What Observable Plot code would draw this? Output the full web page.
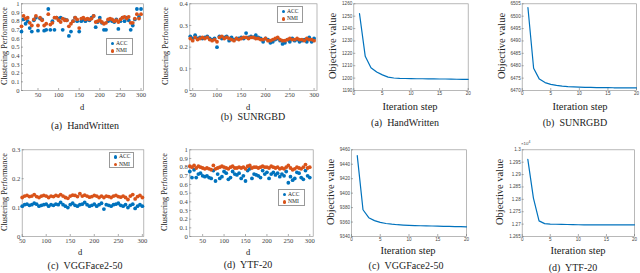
<!DOCTYPE html>
<html><head><meta charset="utf-8">
<script src="https://cdn.jsdelivr.net/npm/d3@7"></script>
<script src="https://cdn.jsdelivr.net/npm/@observablehq/plot@0.6"></script>
<style>
body{margin:0;background:#fff;}
#fig{position:relative;width:640px;height:273px;overflow:hidden;font-family:"Liberation Serif","Times New Roman",Times,"DejaVu Serif",serif;color:#222;}
.abs{position:absolute;white-space:pre;line-height:1;}
.c{transform:translate(-50%,-50%);}
.r{transform:translate(-50%,-50%) rotate(-90deg);}
.leg{position:absolute;border:0.7px solid #999;background:#fff;box-sizing:border-box;}
.leg .row{position:absolute;left:0;font-size:5.6px;line-height:1;white-space:pre;}
.leg .dot{position:absolute;width:3.6px;height:3.6px;border-radius:50%;}
</style></head>
<body><div id="fig"></div>
<script>
// ---------- data ----------
const dA = [10,15,20,25,30,35,40,45,50,55,60,65,70,75,80,85,90,95,100,105,110,115,120,125,130,135,140,145,150,155,160,165,170,175,180,185,190,195,200,205,210,215,220,225,230,235,240,245,250,255,260,265,270,275,280,285,290,295,300];
const accA = [0.68,0.82,0.77,0.80,0.72,0.68,0.81,0.84,0.69,0.83,0.82,0.69,0.70,0.94,0.70,0.80,0.70,0.84,0.83,0.84,0.70,0.82,0.81,0.63,0.68,0.80,0.84,0.80,0.68,0.80,0.82,0.80,0.82,0.81,0.84,0.86,0.73,0.79,0.84,0.78,0.70,0.70,0.80,0.82,0.80,0.79,0.82,0.71,0.80,0.84,0.80,0.84,0.81,0.70,0.75,0.82,0.94,0.85,0.94];
const nmiA = [0.74,0.86,0.83,0.84,0.78,0.75,0.82,0.86,0.75,0.84,0.81,0.75,0.77,0.88,0.76,0.78,0.84,0.84,0.81,0.79,0.83,0.81,0.81,0.74,0.77,0.80,0.84,0.82,0.72,0.83,0.84,0.82,0.83,0.82,0.83,0.86,0.79,0.80,0.81,0.79,0.77,0.78,0.82,0.83,0.82,0.80,0.81,0.79,0.82,0.84,0.85,0.83,0.85,0.78,0.78,0.83,0.88,0.83,0.88];

const dB = [45,50,55,60,65,70,75,80,85,90,95,100,105,110,115,120,125,130,135,140,145,150,155,160,165,170,175,180,185,190,195,200,205,210,215,220,225,230,235,240,245,250,255,260,265,270,275,280,285,290,295,300];
const accB = [0.25,0.24,0.255,0.24,0.245,0.24,0.245,0.25,0.24,0.235, 0.24,0.20,0.25,0.24,0.245,0.25,0.23,0.245,0.235,0.24, 0.24,0.245,0.24,0.265,0.245,0.25,0.245,0.255,0.245,0.24, 0.225,0.24,0.235,0.22,0.225,0.235,0.24,0.23,0.215,0.22, 0.235,0.225,0.24,0.23,0.235,0.225,0.23,0.235,0.225,0.245, 0.225,0.24];
const nmiB = [0.24,0.23,0.245,0.235,0.24,0.245,0.24,0.245,0.235,0.23, 0.235,0.225,0.245,0.25,0.24,0.245,0.24,0.235,0.23,0.24, 0.235,0.24,0.245,0.245,0.24,0.245,0.245,0.24,0.24,0.235, 0.235,0.24,0.23,0.23,0.235,0.24,0.245,0.235,0.23,0.23, 0.235,0.24,0.235,0.235,0.24,0.235,0.235,0.23,0.24,0.235, 0.235,0.23];

const dC = [50,55,60,65,70,75,80,85,90,95,100,105,110,115,120,125,130,135,140,145,150,155,160,165,170,175,180,185,190,195,200,205,210,215,220,225,230,235,240,245,250,255,260,265,270,275,280,285,290,295,300];
const accC = [0.105,0.11,0.112,0.108,0.11,0.115,0.112,0.105,0.108,0.11, 0.112,0.105,0.11,0.108,0.112,0.11,0.118,0.11,0.105,0.10, 0.11,0.115,0.108,0.105,0.11,0.112,0.118,0.11,0.105,0.108, 0.112,0.105,0.11,0.115,0.095,0.11,0.108,0.105,0.11,0.112, 0.115,0.108,0.105,0.11,0.10,0.108,0.112,0.097,0.105,0.11, 0.105];
const nmiC = [0.135,0.14,0.142,0.138,0.14,0.145,0.138,0.135,0.14,0.142, 0.14,0.135,0.14,0.138,0.142,0.14,0.145,0.14,0.135,0.132, 0.14,0.143,0.142,0.138,0.148,0.14,0.143,0.14,0.136,0.138, 0.142,0.14,0.135,0.14,0.135,0.14,0.138,0.135,0.14,0.142, 0.138,0.136,0.14,0.135,0.128,0.14,0.145,0.13,0.138,0.142, 0.135];

const dD = [20,25,30,35,40,45,50,55,60,65,70,75,80,85,90,95,100,105,110,115,120,125,130,135,140,145,150,155,160,165,170,175,180,185,190,195,200,205,210,215,220,225,230,235,240,245,250,255,260,265,270,275,280,285,290,295,300];
const accD = [0.75,0.68,0.77,0.68,0.72,0.73,0.70,0.69,0.70,0.68, 0.67,0.76,0.64,0.72,0.67,0.69,0.75,0.73,0.66,0.68, 0.75,0.72,0.71,0.73,0.67,0.70,0.64,0.76,0.78,0.67, 0.72,0.71,0.70,0.68,0.76,0.72,0.74,0.67,0.72,0.74, 0.71,0.73,0.69,0.72,0.70,0.75,0.62,0.69,0.65,0.67, 0.74,0.73,0.68,0.66,0.76,0.70,0.68];
const nmiD = [0.81,0.80,0.82,0.79,0.81,0.80,0.79,0.78,0.79,0.78, 0.77,0.82,0.78,0.79,0.80,0.81,0.80,0.79,0.78,0.80, 0.81,0.79,0.79,0.80,0.79,0.80,0.78,0.81,0.82,0.79, 0.80,0.80,0.79,0.80,0.81,0.80,0.80,0.79,0.81,0.80, 0.79,0.80,0.78,0.79,0.78,0.80,0.82,0.79,0.77,0.78, 0.80,0.79,0.78,0.80,0.83,0.79,0.80];

const iter = [1,2,3,4,5,6,7,8,9,10,11,12,13,14,15,16,17,18,19,20];
const objA = [1252,1217.6,1208.4,1205,1202.6,1200.8,1200.1,1199.8,1199.7,1199.6,1199.5,1199.5,1199.4,1199.4,1199.3,1199.3,1199.2,1199.1,1199.0,1199.0];
const objB = [6503.5,6479,6474.6,6473.2,6472.5,6472.1,6471.8,6471.6,6471.5,6471.4,6471.3,6471.3,6471.2,6471.2,6471.2,6471.1,6471.1,6471.1,6471.1,6471.1];
const objC = [9452,9377,9366,9362,9359.5,9358,9357,9356.3,9355.8,9355.4,9355.1,9354.9,9354.7,9354.5,9354.3,9354.1,9354.0,9353.8,9353.6,9353.4];
const objD = [12961,12805,12713,12702,12700,12699.5,12699,12698.5,12698,12697.5,12697.3,12697.2,12697.1,12697,12697,12697,12697,12697,12697,12697];

const dTicks = [50,100,150,200,250,300];
const iterTicks = [0,5,10,15,20];
const yTicksA = [0,0.1,0.2,0.3,0.4,0.5,0.6,0.7,0.8,0.9,1];
const yTicksB = [0,0.1,0.2,0.3,0.4];
const yTicksC = [0,0.1,0.2,0.3];
const yTicksD = [0,0.1,0.2,0.3,0.4,0.5,0.6,0.7,0.8,0.9,1];
const objTicksA = [1190,1200,1210,1220,1230,1240,1250,1260];
const objTicksB = [6470,6475,6480,6485,6490,6495,6500,6505];
const objTicksC = [9340,9360,9380,9400,9420,9440,9460];
const objTicksD = [12650,12700,12750,12800,12850,12900,12950,13000];

const captions = ["(a)  HandWritten","(b)  SUNRGBD","(a)  HandWritten","(b)  SUNRGBD","(c)  VGGFace2-50","(d)  YTF-20","(c)  VGGFace2-50","(d)  YTF-20"];
const seriesNames = ["ACC","NMI"];

const BLUE = "#0072BD", ORANGE = "#D95319";
const SERIF = '"Liberation Serif","Times New Roman",Times,"DejaVu Serif",serif';
const SANS = '"Liberation Sans",Arial,Helvetica,sans-serif';
const fig = document.getElementById("fig");
const clean = v => String(+v.toFixed(4));

function panel({cx, cy, ch, frame, xDomain, yDomain, xTicks, yTicks, yFormat, serif, marks}) {
  const [fx0, fy0, fx1, fy1] = frame;
  const fs = serif ? 6.6 : 4.6;
  const font = serif ? SERIF : SANS;
  const p = Plot.plot({
    width: 160, height: ch,
    marginLeft: fx0 - cx, marginRight: cx + 160 - fx1,
    marginTop: fy0 - cy, marginBottom: cy + ch - fy1,
    style: {background: "transparent", fontFamily: font, fontSize: fs + "px", color: "#444", overflow: "visible"},
    x: {domain: xDomain}, y: {domain: yDomain},
    marks: [
      Plot.frame({stroke: "#9a9a9a", strokeWidth: 0.7}),
      Plot.axisX({ticks: xTicks, tickSize: -2, tickPadding: serif ? 4 : 3.5, label: null, stroke: "#777", strokeWidth: 0.6, fontSize: fs, tickFormat: clean}),
      Plot.axisY({ticks: yTicks, tickSize: -2, tickPadding: serif ? 4 : 3.5, label: null, stroke: "#777", strokeWidth: 0.6, fontSize: fs, tickFormat: yFormat || clean}),
      ...marks
    ]
  });
  p.style.position = "absolute";
  p.style.left = cx + "px";
  p.style.top = cy + "px";
  p.style.fontFamily = font;
  fig.appendChild(p);
}

function text(str, x, y, size, cls) {
  const el = document.createElement("div");
  el.className = "abs " + cls;
  el.style.left = x + "px"; el.style.top = y + "px"; el.style.fontSize = size + "px";
  el.style.fontFamily = SERIF;
  el.textContent = str;
  fig.appendChild(el);
  return el;
}

function legend(x, y, w, h) {
  const el = document.createElement("div");
  el.className = "leg";
  el.style.left = x + "px"; el.style.top = y + "px"; el.style.width = w + "px"; el.style.height = h + "px";
  el.style.fontFamily = SERIF;
  [BLUE, ORANGE].forEach((col, i) => {
    const dot = document.createElement("span");
    dot.className = "dot";
    dot.style.background = col;
    dot.style.left = "3.6px"; dot.style.top = (2.6 + i * 7.6) + "px";
    el.appendChild(dot);
    const t = document.createElement("span");
    t.className = "row";
    t.style.left = "9px"; t.style.top = (1.6 + i * 7.6) + "px";
    t.textContent = seriesNames[i];
    el.appendChild(t);
  });
  fig.appendChild(el);
}

function scatterMarks(d, acc, nmi) {
  const rows = d.map((v, i) => ({d: v, acc: acc[i], nmi: nmi[i]}));
  return [
    Plot.dot(rows, {x: "d", y: "acc", r: 1.9, fill: BLUE, stroke: "none"}),
    Plot.dot(rows, {x: "d", y: "nmi", r: 1.9, fill: ORANGE, stroke: "none"})
  ];
}
function lineMarks(vals) {
  const rows = iter.map((t, i) => ({t, v: vals[i]}));
  return [Plot.line(rows, {x: "t", y: "v", stroke: BLUE, strokeWidth: 1.2})];
}

// ---------- top row ----------
panel({cx: 0, cy: 0, ch: 116, frame: [21, 3.3, 143, 90], xDomain: [10, 306], yDomain: [0, 1], xTicks: dTicks, yTicks: yTicksA, serif: true, marks: scatterMarks(dA, accA, nmiA)});
panel({cx: 160, cy: 0, ch: 116, frame: [189.3, 3.3, 316.5, 90], xDomain: [44, 306], yDomain: [0, 0.4], xTicks: dTicks, yTicks: yTicksB, serif: true, marks: scatterMarks(dB, accB, nmiB)});
panel({cx: 320, cy: 0, ch: 116, frame: [353.3, 3.3, 467.7, 90], xDomain: [0, 20], yDomain: [1190, 1260], xTicks: iterTicks, yTicks: objTicksA, serif: false, marks: lineMarks(objA)});
panel({cx: 480, cy: 0, ch: 116, frame: [521.7, 3.3, 636, 90], xDomain: [0, 20], yDomain: [6470, 6505], xTicks: iterTicks, yTicks: objTicksB, serif: false, marks: lineMarks(objB)});
// ---------- bottom row ----------
panel({cx: 0, cy: 140, ch: 122, frame: [21.7, 149.3, 143.3, 236], xDomain: [50, 303], yDomain: [0, 0.3], xTicks: dTicks, yTicks: yTicksC, serif: true, marks: scatterMarks(dC, accC, nmiC)});
panel({cx: 160, cy: 140, ch: 122, frame: [189.3, 149.3, 312.7, 236], xDomain: [20, 308], yDomain: [0, 1], xTicks: dTicks, yTicks: yTicksD, serif: true, marks: scatterMarks(dD, accD, nmiD)});
panel({cx: 320, cy: 140, ch: 122, frame: [351, 149.3, 466, 236], xDomain: [0, 20], yDomain: [9340, 9460], xTicks: iterTicks, yTicks: objTicksC, serif: false, marks: lineMarks(objC)});
panel({cx: 480, cy: 140, ch: 122, frame: [521.7, 149.3, 634, 236], xDomain: [0, 20], yDomain: [12650, 13000], xTicks: iterTicks, yTicks: objTicksD, yFormat: v => clean(v / 1e4), serif: false, marks: lineMarks(objD)});

// ---------- labels ----------
const cp = "Clustering Performance";
[[5, 46], [166, 46], [5, 192], [165, 192]].forEach(([x, y]) => text(cp, x, y, 8.2, "r"));
[[82, 107], [248, 107], [80, 252], [248, 252]].forEach(([x, y]) => text("d", x, y, 8.5, "c"));
[[333, 46], [502, 46], [331, 192], [500, 192]].forEach(([x, y]) => text("Objective value", x, y, 10.5, "r"));
[[410, 107], [580, 107], [408, 251], [578, 251]].forEach(([x, y]) => text("Iteration step", x, y, 10.5, "c"));
[[85, 126], [253, 117], [405, 123], [575, 123], [85, 266], [248, 265], [406, 266], [573, 268]].forEach(([x, y], i) => text(captions[i], x, y, 10, "c"));

const ex = document.createElement("div");
ex.className = "abs";
ex.style.cssText += "left:521px;top:140.5px;font-size:4.4px;color:#444;";
ex.style.fontFamily = SANS;
ex.innerHTML = "×10<sup style='font-size:3.4px'>4</sup>";
fig.appendChild(ex);

legend(106, 38, 27, 16.5);
legend(277, 6, 25.5, 17);
legend(109, 151.5, 24.5, 16);
legend(278, 189, 27, 16.5);
</script>
</body></html>
